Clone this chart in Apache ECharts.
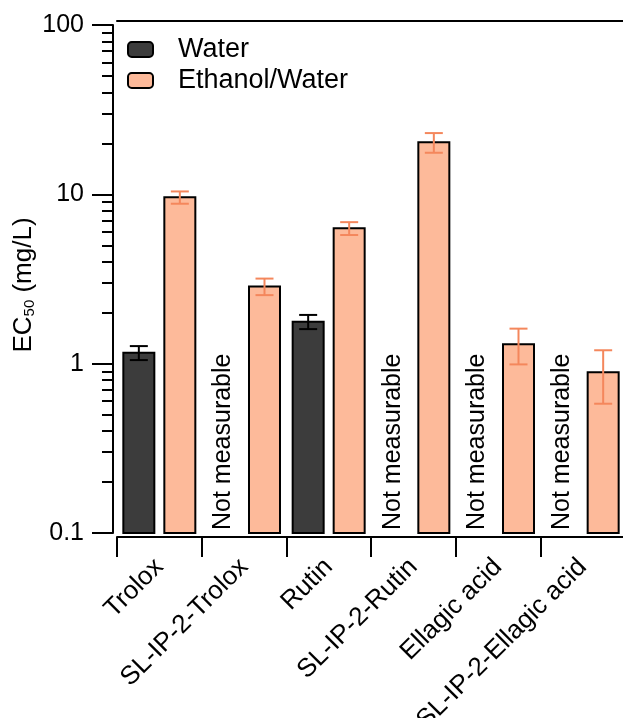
<!DOCTYPE html>
<html>
<head>
<meta charset="utf-8">
<script src="https://cdn.jsdelivr.net/npm/echarts@6/dist/echarts.min.js"></script>
<style>html,body{margin:0;padding:0;background:#fff;}#c{width:623px;height:718px;}</style>
</head>
<body>
<div id="c"></div>
<script>
const categories = ['Trolox', 'SL-IP-2-Trolox', 'Rutin', 'SL-IP-2-Rutin', 'Ellagic acid', 'SL-IP-2-Ellagic acid'];
const waterValues = [1.16, null, 1.77, null, null, null];
const waterErrors = [0.11, null, 0.17, null, null, null];
const ethanolValues = [9.6, 2.86, 6.3, 20.3, 1.30, 0.89];
const ethanolErrors = [0.8, 0.32, 0.55, 2.7, 0.31, 0.31];
const majorTicks = [0.1, 1, 10, 100];
const minorTicks = [0.2,0.3,0.4,0.5,0.6,0.7,0.8,0.9,2,3,4,5,6,7,8,9,20,30,40,50,60,70,80,90];
const missingText = 'Not measurable';
const seriesNames = ['Water', 'Ethanol/Water'];

const FONT = '"Liberation Sans", Arial, Helvetica, sans-serif';
const BAR_W = 33, GAP = 8;
const OFF = (BAR_W + GAP) / 2;
const BASE = majorTicks[0];

function pairs(vals, errs) {
  const out = [];
  vals.forEach((v, i) => { if (v != null) out.push([i, v, errs[i]]); });
  return out;
}
function barRender(offset, fill) {
  return function (params, api) {
    const i = api.value(0), v = api.value(1);
    const top = api.coord([i, v]);
    const bot = api.coord([i, BASE]);
    const x = top[0] + offset - (BAR_W - 2) / 2;
    return {
      type: 'rect',
      shape: { x: x, y: top[1], width: BAR_W - 2, height: bot[1] - top[1] },
      style: { fill: fill, stroke: '#000', lineWidth: 2 }
    };
  };
}
function errRender(offset, color) {
  return function (params, api) {
    const i = api.value(0), v = api.value(1), e = api.value(2);
    const top = api.coord([i, v + e]);
    const bot = api.coord([i, v - e]);
    const x = top[0] + offset;
    const cap = 9;
    const style = { stroke: color, lineWidth: 2 };
    return {
      type: 'group',
      children: [
        { type: 'line', shape: { x1: x, y1: top[1], x2: x, y2: bot[1] }, style: style },
        { type: 'line', shape: { x1: x - cap, y1: top[1], x2: x + cap, y2: top[1] }, style: style },
        { type: 'line', shape: { x1: x - cap, y1: bot[1], x2: x + cap, y2: bot[1] }, style: style }
      ]
    };
  };
}
const missingData = [];
waterValues.forEach((v, i) => { if (v == null) missingData.push([i, BASE]); });

const WATER_FILL = '#3c3c3c', ETH_FILL = '#fdba9a';

const chart = echarts.init(document.getElementById('c'), null, { renderer: 'canvas' });
chart.setOption({
  animation: false,
  backgroundColor: '#fff',
  textStyle: { fontFamily: FONT },
  grid: { left: 117, top: 25, width: 508, bottom: 185, containLabel: false, outerBoundsMode: 'none' },
  legend: {
    orient: 'vertical', left: 127, top: 36, padding: 0, itemWidth: 25, itemHeight: 15, itemGap: 4,
    icon: 'roundRect',
    textStyle: { fontSize: 27, color: '#000', fontFamily: FONT, padding: [0, 0, 0, 20] },
    data: seriesNames
  },
  xAxis: [{
    type: 'category', data: categories, position: 'bottom', offset: 4,
    axisLine: { lineStyle: { color: '#000', width: 2 } },
    axisTick: { show: true, length: 20, lineStyle: { color: '#000', width: 2 } },
    axisLabel: { rotate: 45, interval: 0, fontSize: 26, color: '#000', margin: 26, fontFamily: FONT }
  }, {
    type: 'category', data: categories, position: 'top', offset: 4,
    axisLine: { lineStyle: { color: '#000', width: 2 } },
    axisTick: { show: false }, axisLabel: { show: false }
  }],
  yAxis: [{
    type: 'log', logBase: 10, min: 0.1, max: 100, position: 'left', offset: 4,
    name: '{m|EC}{s|50}{m| (mg/L)}', nameLocation: 'middle', nameGap: 74, nameRotate: 90,
    nameMoveOverlap: false,
    nameTextStyle: {
      padding: [0, 12, 0, 0],
      rich: {
        m: { fontSize: 26, color: '#000', fontFamily: FONT, lineHeight: 30, verticalAlign: 'middle' },
        s: { fontSize: 15, color: '#000', fontFamily: FONT, lineHeight: 30, verticalAlign: 'bottom', padding: [0, 0, 2, 0] }
      }
    },
    axisLine: { show: true, lineStyle: { color: '#000', width: 2 } },
    axisTick: { show: true, length: 21, lineStyle: { color: '#000', width: 2 }, customValues: majorTicks },
    axisLabel: {
      fontSize: 25, color: '#000', margin: 29, fontFamily: FONT, customValues: majorTicks,
      formatter: v => String(Math.round(v * 10) / 10)
    },
    splitLine: { show: false }
  }, {
    type: 'log', logBase: 10, min: 0.1, max: 100, position: 'left', offset: 4,
    axisLine: { show: false },
    axisTick: { show: true, length: 11, lineStyle: { color: '#000', width: 2 }, customValues: minorTicks },
    axisLabel: { show: false, customValues: minorTicks },
    splitLine: { show: false }
  }],
  series: [{
    name: seriesNames[0], type: 'custom', renderItem: barRender(-OFF, WATER_FILL), data: pairs(waterValues, waterErrors),
    itemStyle: { color: WATER_FILL, borderColor: '#000', borderWidth: 2 }, z: 2, silent: true
  }, {
    name: seriesNames[1], type: 'custom', renderItem: barRender(OFF, ETH_FILL), data: pairs(ethanolValues, ethanolErrors),
    itemStyle: { color: ETH_FILL, borderColor: '#000', borderWidth: 2 }, z: 2, silent: true
  }, {
    type: 'custom', renderItem: errRender(-OFF, '#000'), data: pairs(waterValues, waterErrors), z: 5, silent: true
  }, {
    type: 'custom', renderItem: errRender(OFF, '#f4875c'), data: pairs(ethanolValues, ethanolErrors), z: 5, silent: true
  }, {
    type: 'custom', data: missingData, z: 5, silent: true,
    renderItem: function (params, api) {
      const p = api.coord([api.value(0), api.value(1)]);
      return {
        type: 'text', x: p[0] - OFF, y: p[1] - 3, rotation: Math.PI / 2,
        style: { text: missingText, font: '25px ' + FONT, fill: '#000', align: 'left', verticalAlign: 'middle' }
      };
    }
  }]
});
</script>
</body>
</html>
